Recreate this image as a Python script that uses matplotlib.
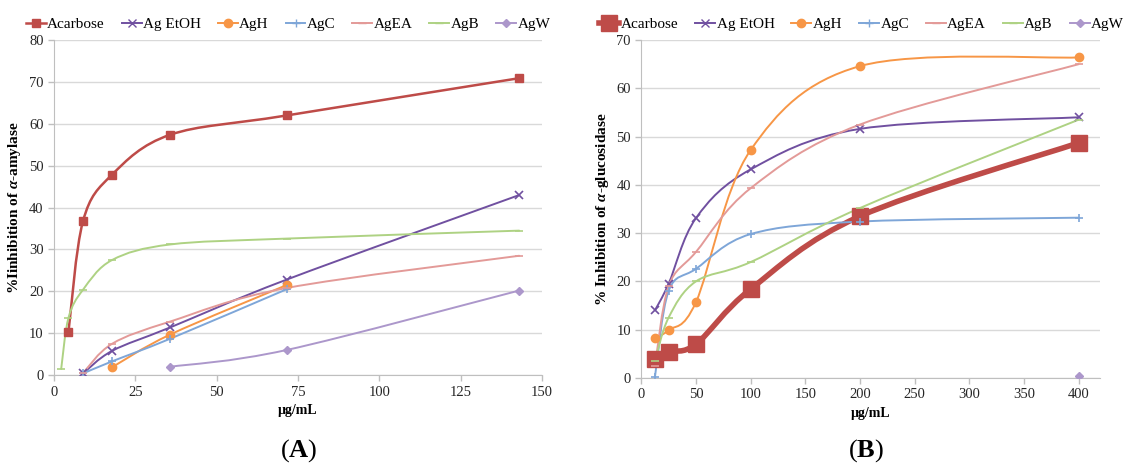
import numpy as np
import matplotlib
matplotlib.use('Agg')
import matplotlib.pyplot as plt
from matplotlib.path import Path
from matplotlib.patches import PathPatch
from matplotlib.lines import Line2D

plt.rcParams['font.family'] = ['Liberation Serif', 'DejaVu Serif']
plt.rcParams['mathtext.fontset'] = 'custom'
plt.rcParams['mathtext.rm'] = 'Liberation Serif'
plt.rcParams['mathtext.it'] = 'Liberation Serif:italic:bold'
plt.rcParams['mathtext.bf'] = 'Liberation Serif:bold'

# Series names
names = ['Acarbose', 'Ag EtOH', 'AgH', 'AgC', 'AgEA', 'AgB', 'AgW']

# Panel A (alpha-amylase)
a_acarbose_x = [4.47, 8.94, 17.9, 35.75, 71.5, 143]
a_acarbose_y = [10.4, 36.8, 47.9, 57.4, 62.0, 70.9]
a_etoh_x = [8.94, 17.9, 35.75, 71.5, 143]
a_etoh_y = [0.4, 5.8, 11.4, 22.8, 43.0]
a_agh_x = [17.9, 35.75, 71.5]
a_agh_y = [1.9, 9.7, 21.5]
a_agc_x = [8.94, 17.9, 35.75, 71.5]
a_agc_y = [0.4, 3.3, 8.7, 20.5]
a_agea_x = [8.94, 17.9, 35.75, 71.5, 143]
a_agea_y = [0.5, 7.5, 12.8, 20.8, 28.5]
a_agb_x = [2.23, 4.47, 8.94, 17.9, 35.75, 71.5, 143]
a_agb_y = [1.5, 13.7, 20.4, 27.5, 31.2, 32.6, 34.5]
a_agw_x = [35.75, 71.5, 143]
a_agw_y = [2.0, 6.0, 20.2]

# Panel B (alpha-glucosidase)
b_x = [12.5, 25, 50, 100, 200, 400]
b_acarbose_y = [4.0, 5.4, 7.0, 18.4, 33.5, 48.7]
b_etoh_y = [14.0, 19.5, 33.1, 43.2, 51.6, 54.0]
b_agh_y = [8.3, 9.9, 15.7, 47.2, 64.6, 66.4]
b_agc_y = [0.2, 18.0, 22.6, 29.8, 32.4, 33.2]
b_agea_y = [2.5, 19.0, 26.1, 39.3, 52.5, 65.0]
b_agb_y = [3.5, 12.5, 20.0, 24.0, 35.2, 53.5]
b_agw_x = [400]
b_agw_y = [0.5]

colors = ['#BE4B48', '#7050A0', '#F79646', '#7EA6D8', '#E39A98', '#AED283', '#AC97CB']
markers = ['s', 'x', 'o', '+', '_', '_', 'D']


def smooth_path(xs, ys):
    # Excel-style smoothed line as cubic Bezier segments
    pts = np.column_stack([xs, ys]).astype(float)
    n = len(pts)
    verts = [pts[0]]
    codes = [Path.MOVETO]
    for i in range(n - 1):
        p0 = pts[i - 1] if i > 0 else pts[i]
        p1 = pts[i]
        p2 = pts[i + 1]
        p3 = pts[i + 2] if i + 2 < n else pts[i + 1]
        c1 = p1 + (p2 - p0) / 6.0
        c2 = p2 - (p3 - p1) / 6.0
        verts += [c1, c2, p2]
        codes += [Path.CURVE4] * 3
    return Path(verts, codes)


def draw_series(ax, xs, ys, color, marker, lw, ms):
    if len(xs) > 1:
        ax.add_patch(PathPatch(smooth_path(xs, ys), fill=False, edgecolor=color,
                               lw=lw, capstyle='round', joinstyle='round', zorder=3))
    mew = 1.2 if marker in ('x', '+', '_') else 1
    ax.plot(xs, ys, linestyle='none', marker=marker, color=color, ms=ms,
            mew=mew, zorder=4)


def style_axes(ax):
    for s in ['top', 'right']:
        ax.spines[s].set_visible(False)
    for s in ['left', 'bottom']:
        ax.spines[s].set_color('#BFBFBF')
    ax.grid(axis='y', color='#D9D9D9', lw=1)
    ax.set_axisbelow(True)
    ax.tick_params(colors='#BFBFBF', labelcolor='#262626', labelsize=10.5,
                   length=4, width=1)


fig = plt.figure(figsize=(11.31, 4.66), dpi=100)
axA = fig.add_axes([0.0477, 0.195, 0.4315, 0.719])
axB = fig.add_axes([0.567, 0.189, 0.406, 0.725])

# Panel A
seriesA = [(a_acarbose_x, a_acarbose_y), (a_etoh_x, a_etoh_y), (a_agh_x, a_agh_y),
           (a_agc_x, a_agc_y), (a_agea_x, a_agea_y), (a_agb_x, a_agb_y),
           (a_agw_x, a_agw_y)]
for i, (xs, ys) in enumerate(seriesA):
    lw = 1.8 if i == 0 else 1.4
    ms = 6 if markers[i] != 'D' else 4.5
    draw_series(axA, xs, ys, colors[i], markers[i], lw, ms)
axA.set_xlim(0, 150)
axA.set_ylim(0, 80)
axA.set_xticks(np.arange(0, 151, 25))
axA.set_yticks(np.arange(0, 81, 10))
style_axes(axA)
axA.set_xlabel('μg/mL', fontsize=10, fontweight='bold')
axA.set_ylabel(r'%Iinhibition of $\alpha$-amylase', fontsize=11, fontweight='bold')

# Panel B
seriesB = [(b_x, b_acarbose_y), (b_x, b_etoh_y), (b_x, b_agh_y), (b_x, b_agc_y),
           (b_x, b_agea_y), (b_x, b_agb_y), (b_agw_x, b_agw_y)]
for i, (xs, ys) in enumerate(seriesB):
    lw = 4 if i == 0 else 1.4
    ms = 12 if i == 0 else (4.5 if markers[i] == 'D' else 6)
    draw_series(axB, xs, ys, colors[i], markers[i], lw, ms)
axB.set_xlim(0, 420)
axB.set_ylim(0, 70)
axB.set_xticks(np.arange(0, 401, 50))
axB.set_yticks(np.arange(0, 71, 10))
style_axes(axB)
axB.set_xlabel('μg/mL', fontsize=10, fontweight='bold')
axB.set_ylabel(r'% Inhibition of $\alpha$-glucosidase', fontsize=11, fontweight='bold')

# Legends
for ax, big in [(axA, False), (axB, True)]:
    handles = []
    for i, nm in enumerate(names):
        lw = (4 if big else 1.8) if i == 0 else 1.4
        ms = (12 if big else 6) if i == 0 else (4.5 if markers[i] == 'D' else 6)
        handles.append(Line2D([0], [0], color=colors[i], lw=lw, marker=markers[i],
                              ms=ms, label=nm))
    ax.legend(handles=handles, loc='lower center', bbox_to_anchor=(0.48, 1.0),
              ncol=7, frameon=False, fontsize=11, handlelength=1.3,
              handletextpad=0.1, columnspacing=1.1, borderaxespad=0.2)

fig.text(0.264, 0.02, r'($\mathbf{A}$)', fontsize=19, ha='center')
fig.text(0.766, 0.02, r'($\mathbf{B}$)', fontsize=19, ha='center')

fig.savefig('out.png', dpi=100)
